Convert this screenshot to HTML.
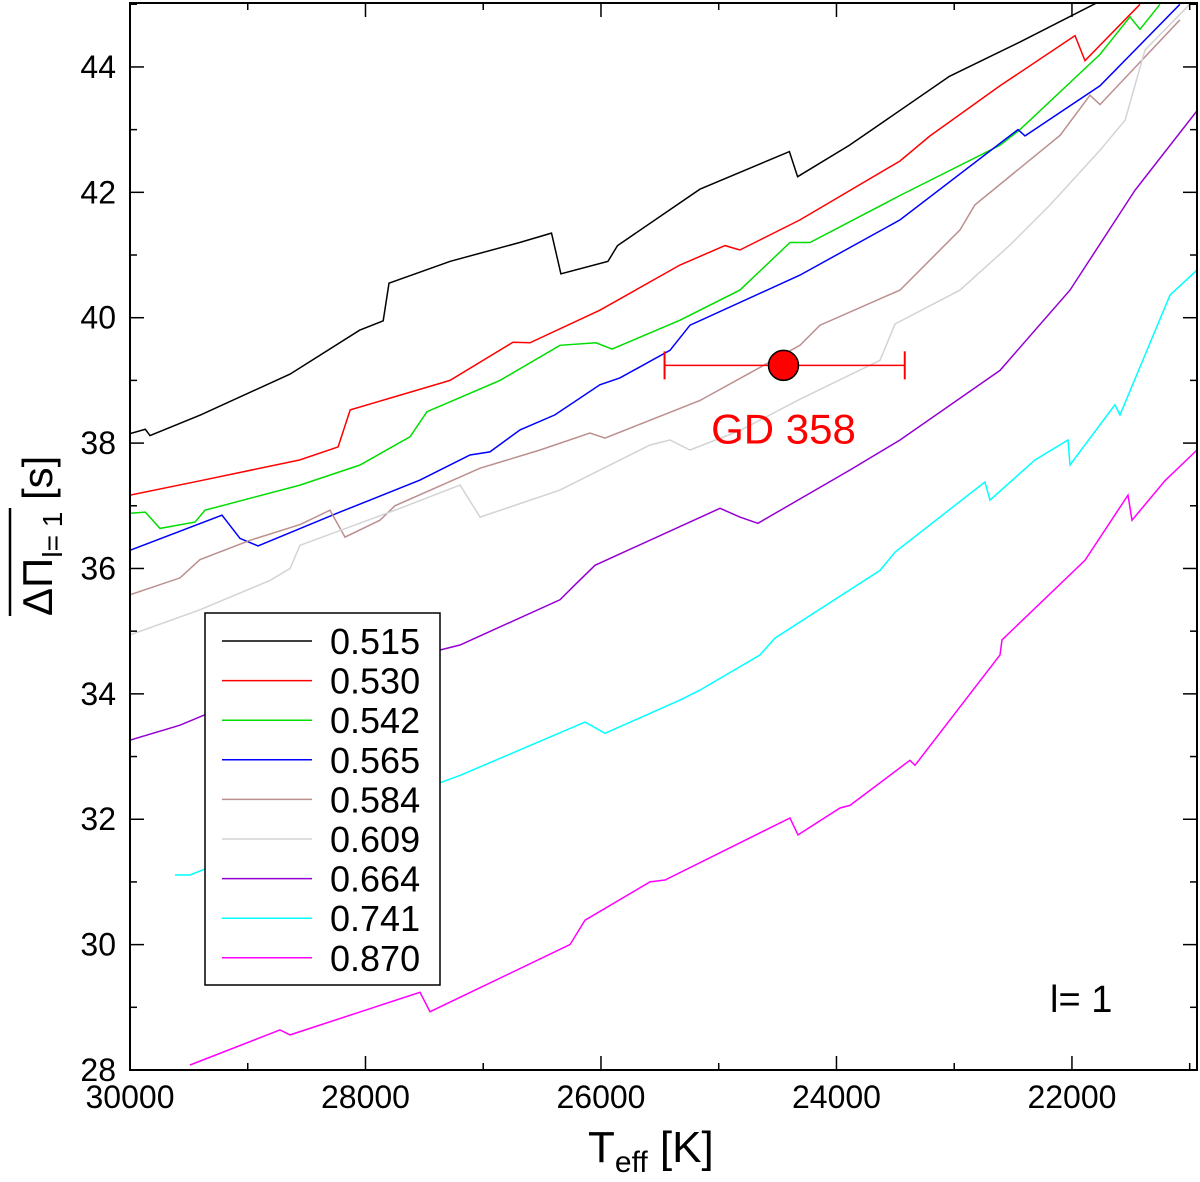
<!DOCTYPE html>
<html><head><meta charset="utf-8"><style>
html,body{margin:0;padding:0;background:#fff;}
svg text{font-family:"Liberation Sans",Arial,sans-serif;}
</style></head><body>
<svg id="chart" width="1200" height="1177" viewBox="0 0 1200 1177" xmlns="http://www.w3.org/2000/svg">
<defs><clipPath id="plotclip"><rect x="130" y="3" width="1067" height="1067"/></clipPath></defs>
<g id="series" clip-path="url(#plotclip)"></g>
<g id="axes"></g>
<g id="legend"></g>
</svg>
<script>
const xTicks=[30000,28000,26000,24000,22000];
const yTicks=[28,30,32,34,36,38,40,42,44];
const masses=["0.515","0.530","0.542","0.565","0.584","0.609","0.664","0.741","0.870"];
const colors=["#000000","#ff0000","#00dd00","#0000ff","#bc8f8f","#d3d3d3","#9400d3","#00ffff","#ff00ff"];
const t515=[30000,29870,29830,29400,28640,28050,27850,27800,27280,26690,26420,26340,25940,25860,25160,24400,24330,23890,23040,22440,21760];
const p515=[38.15,38.22,38.12,38.45,39.1,39.8,39.95,40.55,40.9,41.2,41.35,40.7,40.9,41.15,42.05,42.65,42.25,42.75,43.85,44.4,45.05];
const t530=[30000,29400,28560,28233,28130,27282,26747,26603,26009,25329,24947,24820,24310,23460,23206,22611,21974,21889,21422];
const p530=[37.17,37.4,37.73,37.94,38.53,39.0,39.61,39.6,40.12,40.84,41.15,41.08,41.56,42.5,42.9,43.7,44.5,44.1,45.0];
const t542=[30000,29870,29745,29448,29363,28556,28047,27622,27478,26858,26348,26042,25906,25329,24820,24395,24225,23460,22611,22441,21762,21507,21422,21252];
const p542=[36.88,36.9,36.64,36.74,36.93,37.33,37.65,38.1,38.5,39.0,39.56,39.6,39.5,39.96,40.44,41.2,41.2,41.95,42.75,43.0,44.2,44.8,44.6,45.0];
const t565=[30000,29219,29066,28913,28217,27537,27112,26943,26688,26391,26009,25839,25414,25244,24310,23460,22458,22399,21762,21083];
const p565=[36.29,36.85,36.48,36.36,36.9,37.41,37.81,37.86,38.21,38.45,38.93,39.04,39.48,39.88,40.68,41.56,43.0,42.9,43.7,45.0];
const t584=[30000,29575,29406,28981,28556,28301,28174,27877,27750,27027,26518,26093,25966,25159,24310,24140,23460,22951,22824,22101,21847,21762,21083];
const p584=[35.58,35.85,36.14,36.45,36.7,36.93,36.5,36.77,37.0,37.6,37.89,38.16,38.08,38.68,39.56,39.88,40.44,41.4,41.8,42.91,43.55,43.4,44.75];
const t609=[30000,29406,28811,28641,28556,27706,27197,27027,26348,25584,25414,25244,24820,24310,23630,23503,22951,22526,22186,21762,21549,21380,21000];
const p609=[34.94,35.34,35.81,36.0,36.37,36.96,37.33,36.82,37.25,37.97,38.05,37.89,38.2,38.7,39.32,39.9,40.44,41.16,41.8,42.67,43.15,44.27,45.0];
const t664=[30000,29575,29066,27197,26348,26221,26051,24989,24820,24667,23885,23460,22611,22017,21465,20938];
const p664=[33.26,33.5,33.9,34.78,35.5,35.74,36.05,36.96,36.82,36.72,37.57,38.05,39.16,40.44,42.03,43.3];
const t741=[29618,29490,29278,27197,26136,25966,25329,25159,24650,24522,23630,23503,22739,22696,22314,22034,22017,21635,21592,21167,20938];
const p741=[31.11,31.11,31.27,32.7,33.55,33.37,33.9,34.06,34.62,34.89,35.97,36.26,37.38,37.09,37.73,38.05,37.65,38.61,38.45,40.36,40.76];
const t870=[29490,28726,28641,27537,27452,26263,26136,25584,25456,24395,24327,23970,23885,23376,23333,22611,22594,21889,21524,21490,21210,20938];
const p870=[28.08,28.64,28.56,29.24,28.93,30.0,30.39,31.0,31.03,32.02,31.75,32.18,32.22,32.94,32.86,34.62,34.86,36.13,37.17,36.77,37.4,37.89];
const teffSeries=[t515,t530,t542,t565,t584,t609,t664,t741,t870];
const periodSeries=[p515,p530,p542,p565,p584,p609,p664,p741,p870];
const starTeff=24450, starP=39.24, starErrLo=25460, starErrHi=23420;

const NS="http://www.w3.org/2000/svg";
const X0=130,X1=1197,Y0=1070,Y1=3;
const xMin=30000,xMax=20938,yMin=28,yMax=45.02;
function sx(t){return X0+(xMin-t)/(xMin-xMax)*(X1-X0);}
function sy(p){return Y0-(p-yMin)/(yMax-yMin)*(Y0-Y1);}
function mk(tag,attrs,parent){const e=document.createElementNS(NS,tag);for(const k in attrs)e.setAttribute(k,attrs[k]);parent.appendChild(e);return e;}
const gS=document.getElementById('series'),gA=document.getElementById('axes'),gL=document.getElementById('legend');

teffSeries.forEach((ts,i)=>{
  const d=ts.map((t,j)=>(j?'L':'M')+sx(t).toFixed(1)+','+sy(periodSeries[i][j]).toFixed(1)).join(' ');
  const p=mk('path',{d:d,fill:'none',stroke:colors[i],'stroke-width':1.5},gS);
  
  
});
const eb=mk('g',{},gS);


const yy=sy(starP);
mk('line',{x1:sx(starErrLo),x2:sx(starErrHi),y1:yy,y2:yy,stroke:'#ff0000','stroke-width':1.5},eb);
mk('line',{x1:sx(starErrLo),x2:sx(starErrLo),y1:yy-14,y2:yy+14,stroke:'#ff0000','stroke-width':2},eb);
mk('line',{x1:sx(starErrHi),x2:sx(starErrHi),y1:yy-14,y2:yy+14,stroke:'#ff0000','stroke-width':2},eb);
mk('circle',{cx:sx(starTeff),cy:yy,r:15,fill:'#ff0000',stroke:'#000','stroke-width':1.5},eb);
const lbl=mk('text',{x:sx(starTeff),y:yy+78,'font-size':42,fill:'#ff0000','text-anchor':'middle'},gA);
lbl.textContent='GD 358';



mk('rect',{x:X0,y:Y1,width:X1-X0,height:Y0-Y1,fill:'none',stroke:'#000','stroke-width':2},gA);
for(let t=30000;t>=21000;t-=1000){
  const x=sx(t),maj=(t%2000===0),L=maj?14:7;
  mk('line',{x1:x,x2:x,y1:Y0,y2:Y0-L,stroke:'#000','stroke-width':1.5},gA);
  mk('line',{x1:x,x2:x,y1:Y1,y2:Y1+L,stroke:'#000','stroke-width':1.5},gA);
}
xTicks.forEach(t=>{const e=mk('text',{x:sx(t),y:1108,'font-size':32,'text-anchor':'middle'},gA);e.textContent=t;
  
  });
for(let p=28;p<=45;p+=1){
  const y=sy(p),maj=(p%2===0),L=maj?14:7;
  mk('line',{x1:X0,x2:X0+L,y1:y,y2:y,stroke:'#000','stroke-width':1.5},gA);
  mk('line',{x1:X1,x2:X1-L,y1:y,y2:y,stroke:'#000','stroke-width':1.5},gA);
}
yTicks.forEach(p=>{const e=mk('text',{x:116,y:sy(p)+11,'font-size':32,'text-anchor':'end'},gA);e.textContent=p;
  
  });
const xt=mk('text',{x:588,y:1162,'font-size':44},gA);
xt.innerHTML='T<tspan font-size="30" dy="10">eff</tspan><tspan dy="-10"> [K]</tspan>';


const yt=mk('text',{x:0,y:0,'font-size':42,transform:'translate(52,616) rotate(-90)'},gA);
yt.innerHTML='ΔΠ<tspan font-size="28" dy="10">l= 1</tspan><tspan dy="-10"> [s]</tspan>';


mk('line',{x1:10,x2:10,y1:616,y2:508,stroke:'#000','stroke-width':2.5},gA);
const ll=mk('text',{x:1050,y:1012,'font-size':38},gA);ll.textContent='l= 1';


mk('rect',{x:205,y:613,width:235,height:372,fill:'#fff',stroke:'#000','stroke-width':1.5},gL);
masses.forEach((m,i)=>{
  const y=641+i*39.6;
  const g=mk('g',{},gL);
  
  
  mk('line',{x1:222,x2:312,y1:y,y2:y,stroke:colors[i],'stroke-width':1.5},g);
  const t=mk('text',{x:330,y:y+13,'font-size':36},g);t.textContent=m;
});
</script>
</body></html>
